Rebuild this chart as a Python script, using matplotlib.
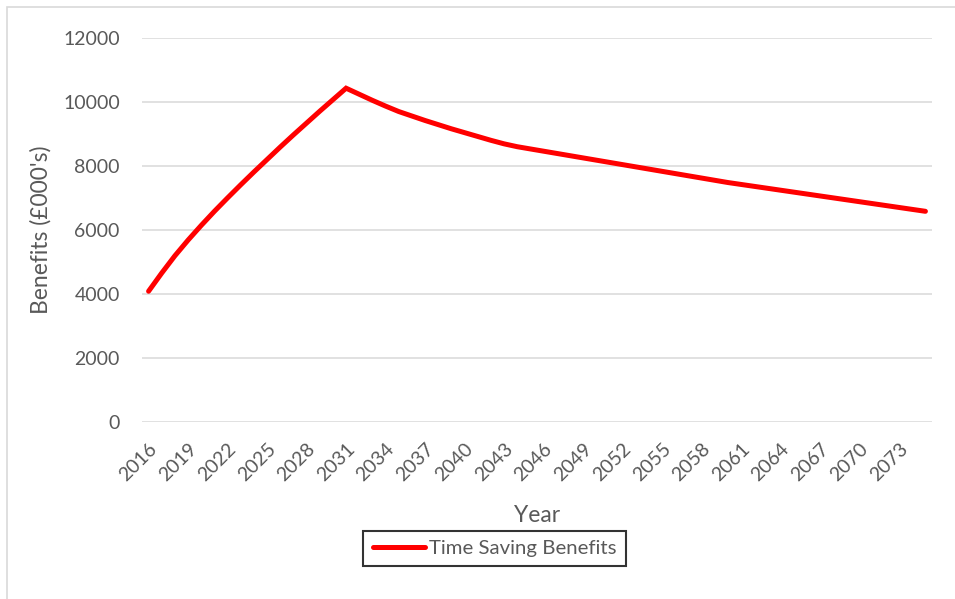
import matplotlib
matplotlib.use("Agg")
import matplotlib.pyplot as plt
from matplotlib.patches import Rectangle
import numpy as np

years = list(range(2016, 2076))
benefits = [
    4080, 4650, 5190, 5680, 6140, 6580, 7000, 7410, 7810, 8200,
    8590, 8970, 9340, 9710, 10070, 10430, 10240, 10050, 9870, 9700,
    9560, 9420, 9290, 9160, 9040, 8920, 8800, 8690, 8600, 8530,
    8460, 8390, 8320, 8250, 8180, 8110, 8040, 7970, 7900, 7830,
    7760, 7690, 7620, 7550, 7480, 7420, 7360, 7300, 7240, 7180,
    7120, 7060, 7000, 6940, 6880, 6820, 6760, 6700, 6640, 6580,
]
tick_years = list(range(2016, 2074, 3))
y_ticks = [0, 2000, 4000, 6000, 8000, 10000, 12000]
series_label = "Time Saving Benefits"

plt.rcParams['font.family'] = ['Lato', 'DejaVu Sans']
txt = '#595959'
W, H = 955, 599
fig = plt.figure(figsize=(W / 100, H / 100), dpi=100)
fig.patches.append(Rectangle((7 / W, -0.1), 1.2, 1 - 7 / H + 0.1, transform=fig.transFigure,
                             fill=False, edgecolor='#D9D9D9', linewidth=1.2))

ax = fig.add_axes([142 / W, 1 - 421.7 / H, (932 - 142) / W, (421.7 - 38) / H])
x = np.arange(len(years))
ax.plot(x, benefits, color='#FF0000', linewidth=3.6, solid_capstyle='round',
        solid_joinstyle='miter', label=series_label)
ax.set_xlim(-0.5, len(years) - 0.5)
ax.set_ylim(0, 12000)
ax.set_yticks(y_ticks)
ax.set_yticklabels([str(v) for v in y_ticks])
ax.grid(axis='y', color='#D9D9D9', linewidth=1.1)
ax.set_axisbelow(True)
for s in ax.spines.values():
    s.set_visible(False)
tick_pos = [years.index(t) for t in tick_years]
ax.set_xticks(tick_pos)
ax.set_xticklabels([str(t) for t in tick_years], rotation=45, ha='right', va='top',
                   rotation_mode='anchor')
ax.tick_params(axis='both', length=0, labelsize=14, labelcolor=txt)
ax.tick_params(axis='y', pad=16)
ax.tick_params(axis='x', pad=13)
ax.set_xlabel('Year', fontsize=16.5, color=txt, labelpad=15)
ax.set_ylabel("Benefits (£000's)", fontsize=16.5, color=txt, labelpad=8)

leg = fig.legend(loc='center', bbox_to_anchor=(494.5 / W, 1 - 548.5 / H), fontsize=14.7,
                 frameon=True, fancybox=False, edgecolor='black', handlelength=2.55,
                 handletextpad=0.2, borderpad=0.45, borderaxespad=0)
leg.get_frame().set_linewidth(1.5)
for t in leg.get_texts():
    t.set_color(txt)

fig.savefig('out.png', dpi=100)
